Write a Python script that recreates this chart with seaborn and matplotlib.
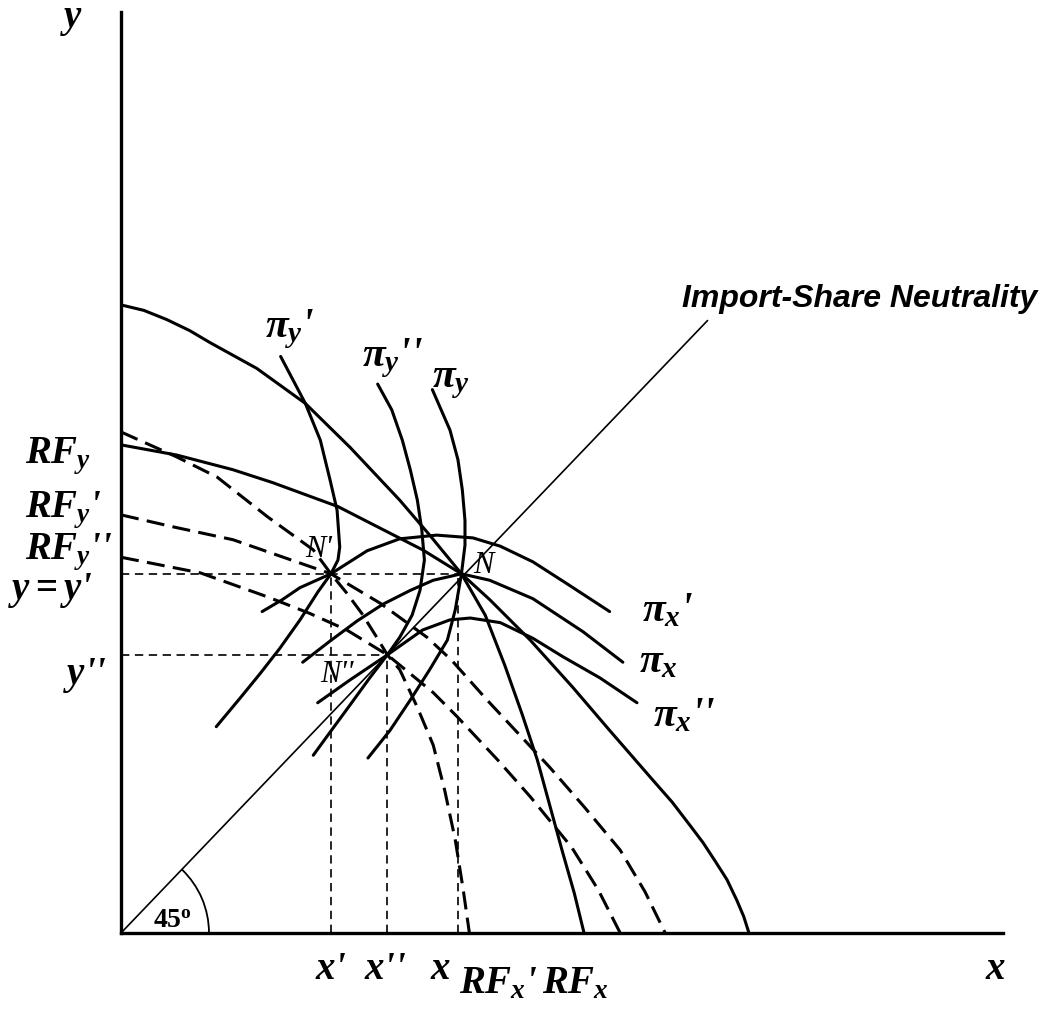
import matplotlib
matplotlib.use("Agg")
import matplotlib.pyplot as plt
from matplotlib.patches import Arc
import seaborn as sns

# ---------------- data (diagram units: x and y from 0 to 100) ----------------
# equilibria
N_pt   = (38.6, 39.0)   # N
N1_pt  = (23.8, 39.0)   # N'
N2_pt  = (30.2, 30.2)   # N''
x_tick = 38.2           # position of the "x" guide

# reaction functions
rfx_x  = [0, 2.6, 5.2, 7.8, 10.1, 15.4, 20.9, 26.0, 31.6, 35.0, 38.6, 41.3, 43.5, 45.5, 47.2, 48.6, 50.0, 51.4, 52.5]
rfx_y  = [68.2, 67.6, 66.6, 65.4, 64.1, 61.3, 57.5, 52.7, 47.0, 43.2, 39.0, 34.5, 29.1, 23.7, 18.8, 13.9, 9.0, 4.3, 0]
rfy_x  = [0, 6.3, 12.7, 17.2, 24.6, 29.7, 34.2, 38.6, 41.8, 46.4, 51.2, 55.4, 60.3, 62.5, 64.5, 66.0, 67.3, 68.7, 69.8, 70.6, 71.2]
rfy_y  = [53.0, 51.9, 50.3, 48.9, 46.3, 43.8, 41.6, 39.0, 36.2, 31.8, 26.7, 22.0, 16.6, 14.2, 11.7, 9.8, 7.9, 5.8, 3.6, 1.8, 0]
rfx1_x = [0, 6.3, 10.9, 16.6, 21.8, 23.8, 25.6, 27.3, 29.0, 30.2, 31.6, 33.6, 35.4, 36.7, 37.9, 38.8, 39.5]
rfx1_y = [54.4, 51.7, 49.5, 45.2, 41.6, 39.0, 36.9, 34.7, 32.1, 30.2, 28.6, 24.5, 20.4, 15.5, 10.1, 4.7, 0]
rfy1_x = [0, 5.9, 12.7, 18.4, 23.8, 29.4, 34.7, 37.5, 41.5, 45.2, 48.6, 52.6, 56.6, 59.4, 61.7]
rfy1_y = [45.4, 44.1, 42.7, 40.8, 39.0, 35.8, 32.1, 29.6, 25.3, 21.5, 18.0, 13.6, 9.0, 4.5, 0]
rfy2_x = [0, 9.0, 16.6, 21.4, 25.6, 30.2, 35.4, 38.1, 42.7, 46.4, 51.1, 54.1, 56.6]
rfy2_y = [40.8, 39.1, 36.5, 34.7, 32.9, 30.2, 26.1, 23.5, 18.8, 14.8, 9.3, 4.7, 0]

# iso-profit curves of y
piy1_x = [18.1, 20.9, 22.6, 23.7, 24.5, 24.8, 24.6, 23.8, 22.3, 20.3, 18.0, 15.8, 13.5, 10.8]
piy1_y = [62.6, 57.5, 53.5, 49.2, 45.9, 41.9, 40.5, 39.0, 37.0, 34.0, 30.9, 28.2, 25.5, 22.4]
piy2_x = [29.1, 30.7, 31.9, 32.8, 33.6, 34.1, 34.4, 33.9, 33.0, 31.6, 30.2, 28.2, 26.0, 23.7, 21.8]
piy2_y = [59.6, 56.8, 53.5, 50.3, 47.0, 43.8, 40.5, 37.2, 34.5, 32.1, 30.2, 27.7, 24.8, 21.8, 19.3]
piy_x  = [35.3, 37.3, 38.2, 38.7, 39.0, 39.0, 38.6, 37.9, 37.0, 35.0, 32.8, 30.5, 28.0]
piy_y  = [59.0, 54.6, 51.4, 48.1, 44.8, 42.1, 39.0, 35.1, 31.8, 28.6, 25.3, 22.0, 19.0]

# iso-profit curves of x
pix1_x = [16.0, 18.3, 20.3, 23.8, 27.9, 31.6, 35.8, 39.9, 43.0, 46.7, 50.6, 55.4]
pix1_y = [34.9, 36.2, 37.5, 39.0, 41.5, 42.8, 43.2, 42.9, 42.0, 40.3, 37.9, 34.9]
pix_x  = [20.6, 23.7, 26.8, 29.7, 32.8, 35.4, 38.6, 41.8, 46.7, 52.4, 56.9]
pix_y  = [29.4, 31.7, 33.9, 35.7, 37.2, 38.3, 39.0, 38.3, 36.3, 32.7, 29.4]
pix2_x = [22.3, 26.0, 30.2, 34.2, 37.3, 39.6, 43.0, 46.7, 50.1, 54.3, 58.5]
pix2_y = [25.0, 27.5, 30.2, 32.9, 34.0, 34.2, 33.7, 32.0, 30.0, 27.7, 25.0]

# import-share neutrality (45 degree) ray
ray_x = [0, 66.5]
ray_y = [0, 66.5]

# labels: text, x, y, ha, size
serif_labels = [
    ("$y$",         -5.6,  98.4, "center", 28),
    ("$x$",         99.2,  -5.0, "center", 28),
    ("$RF_y$",     -10.9,  51.0, "left",   28),
    ("$RF_y$'",    -10.9,  45.1, "left",   28),
    ("$RF_y$''",   -10.9,  40.6, "left",   28),
    ("$y = y$'",   -12.8,  36.3, "left",   28),
    ("$y$''",       -1.6,  27.0, "right",  28),
    ("$x$'",        23.8,  -5.0, "center", 28),
    ("$x$''",       30.0,  -5.0, "center", 28),
    ("$x$",         36.2,  -5.0, "center", 28),
    ("$RF_x$'",     38.3,  -6.5, "left",   28),
    ("$RF_x$",      47.7,  -6.5, "left",   28),
    ("$\\pi_y$'",   16.3,  64.7, "left",   30),
    ("$\\pi_y$''",  27.3,  61.5, "left",   30),
    ("$\\pi_y$",    35.3,  59.3, "left",   30),
    ("$\\pi_x$'",   59.1,  33.8, "left",   30),
    ("$\\pi_x$",    58.7,  28.3, "left",   30),
    ("$\\pi_x$''",  60.3,  22.4, "left",   30),
]
point_labels = [("N'", 20.9, 40.8), ("N", 39.9, 39.1), ("N''", 22.6, 27.3)]
angle_label = ("$\\mathrm{45^o}$", 3.6, 0.5)
ray_label = ("Import-Share Neutrality", 63.6, 68.0)

# ---------------- drawing ----------------
sns.set_theme(style="white")
plt.rcParams["mathtext.fontset"] = "custom"
plt.rcParams["mathtext.it"] = "Liberation Serif:italic:bold"
plt.rcParams["mathtext.rm"] = "Liberation Serif:bold"
plt.rcParams["mathtext.bf"] = "Liberation Serif:bold"
plt.rcParams["font.family"] = ["Liberation Serif", "DejaVu Serif"]
plt.rcParams["lines.scale_dashes"] = False

fig = plt.figure(figsize=(10.5, 10.09), dpi=100)
fig.patch.set_facecolor("white")
ax = fig.add_axes([121 / 1050, 76 / 1009, 882 / 1050, 921 / 1009])
ax.set_xlim(0, 100)
ax.set_ylim(0, 100)
ax.set_facecolor("white")

THICK = 2.2
DASH = (0, (13, 6))
GUIDE = (0, (6, 4))


def curve(xs, ys, lw=THICK, ls="-"):
    sns.lineplot(x=xs, y=ys, sort=False, estimator=None, color="black",
                 linewidth=lw, linestyle=ls, ax=ax, legend=False,
                 solid_joinstyle="round", dash_joinstyle="round")


# guides
curve([0, N_pt[0]], [N_pt[1], N_pt[1]], lw=1.2, ls=GUIDE)
curve([0, N2_pt[0]], [N2_pt[1], N2_pt[1]], lw=1.2, ls=GUIDE)
curve([N1_pt[0], N1_pt[0]], [0, N1_pt[1]], lw=1.2, ls=GUIDE)
curve([N2_pt[0], N2_pt[0]], [0, N2_pt[1]], lw=1.2, ls=GUIDE)
curve([x_tick, x_tick], [0, N_pt[1] - 0.5], lw=1.2, ls=GUIDE)

# 45 degree ray
curve(ray_x, ray_y, lw=1.2)

# reaction functions
curve(rfx_x, rfx_y)
curve(rfy_x, rfy_y)
curve(rfx1_x, rfx1_y, ls=DASH)
curve(rfy1_x, rfy1_y, ls=DASH)
curve(rfy2_x, rfy2_y, ls=DASH)

# iso-profit curves
for xs, ys in [(piy1_x, piy1_y), (piy2_x, piy2_y), (piy_x, piy_y),
               (pix1_x, pix1_y), (pix_x, pix_y), (pix2_x, pix2_y)]:
    curve(xs, ys)

# angle arc
ax.add_patch(Arc((0, 0), width=19.95, height=19.1, theta1=0, theta2=45,
                 color="black", lw=1.3))

# spines / axes
for s in ["top", "right"]:
    ax.spines[s].set_visible(False)
for s in ["left", "bottom"]:
    ax.spines[s].set_color("black")
    ax.spines[s].set_linewidth(2.4)
ax.set_xticks([])
ax.set_yticks([])
ax.set_xlabel("")
ax.set_ylabel("")

for txt, x, y, ha, fs in serif_labels:
    ax.text(x, y, txt, fontsize=fs, ha=ha, va="baseline", color="black",
            weight="bold", style="italic")
for txt, x, y in point_labels:
    ax.text(x, y, txt, fontsize=22, ha="left", va="baseline", style="italic",
            family=["Liberation Serif", "DejaVu Serif"], color="black")
ax.text(angle_label[1], angle_label[2], angle_label[0], fontsize=20,
        ha="left", va="baseline", color="black")
ax.text(ray_label[1], ray_label[2], ray_label[0], fontsize=23, ha="left",
        va="baseline", weight="bold", style="italic",
        family=["Liberation Sans", "DejaVu Sans"], color="black")

fig.savefig("out.png", dpi=100, facecolor="white")
